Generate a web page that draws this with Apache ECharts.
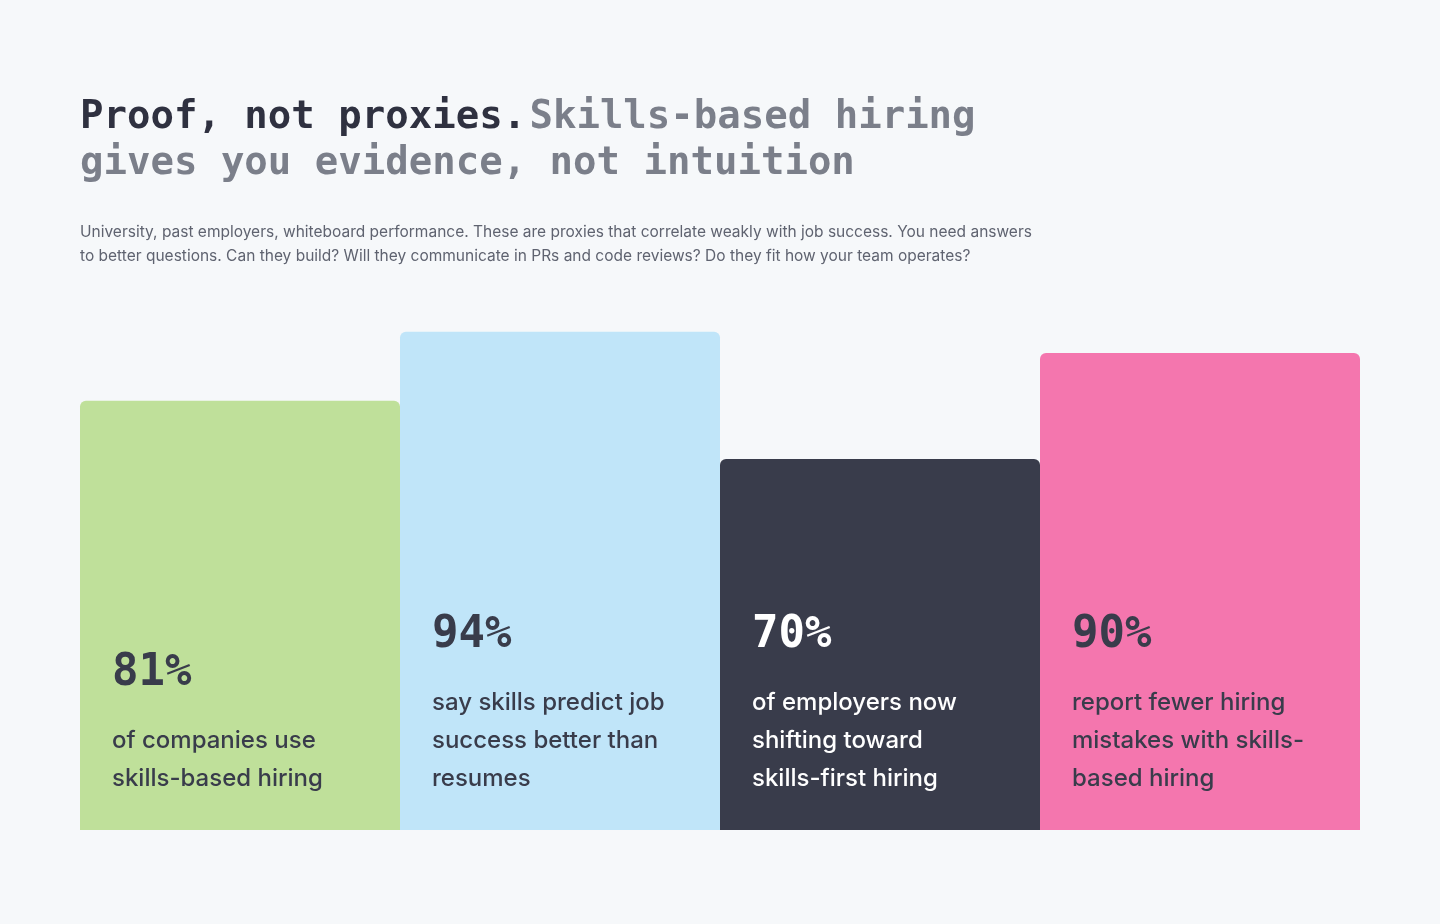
<!DOCTYPE html>
<html><head><meta charset="utf-8">
<script src="https://cdn.jsdelivr.net/npm/echarts@6/dist/echarts.min.js"></script>
<style>html,body{margin:0;padding:0;background:#f6f8fa}#c{width:1440px;height:924px}</style>
</head><body><div id="c"></div>
<script>
const categories = ['companies', 'predict', 'employers', 'mistakes'];
const values = [81, 94, 70, 90];
const valueLabels = ['81%', '94%', '70%', '90%'];
const descriptions = [
  'of companies use\nskills-based hiring',
  'say skills predict job\nsuccess better than\nresumes',
  'of employers now\nshifting toward\nskills-first hiring',
  'report fewer hiring\nmistakes with skills-\nbased hiring'
];
const colors = ['#bfe09a', '#c0e5f9', '#393c4b', '#f476ae'];
const textColors = ['#393c4b', '#393c4b', '#ffffff', '#393c4b'];

const chart = echarts.init(document.getElementById('c'));
chart.setOption({
  backgroundColor: '#f6f8fa',
  animation: false,
  grid: { left: 80, right: 80, top: 300, bottom: 94 },
  xAxis: { type: 'category', data: categories, show: false },
  yAxis: { type: 'value', min: 0, max: 100, show: false },
  graphic: [
    { type: 'text', left: 80, top: 98, style: {
      text: '{a|Proof, not proxies.} {b|Skills-based hiring}\n{b|gives you evidence, not intuition}',
      rich: {
        a: { font: 'bold 39px "DejaVu Sans Mono"', fill: '#2f3140', lineHeight: 46 },
        b: { font: 'bold 39px "DejaVu Sans Mono"', fill: '#7b7f8a', lineHeight: 46 }
      }
    }},
    { type: 'text', left: 80, top: 220, style: {
      text: 'University, past employers, whiteboard performance. These are proxies that correlate weakly with job success. You need answers\nto better questions. Can they build? Will they communicate in PRs and code reviews? Do they fit how your team operates?',
      font: '15.5px Inter', fill: '#5f6370', lineHeight: 24
    }}
  ],
  series: [{
    type: 'bar',
    barWidth: '100%',
    barGap: '0%',
    data: values.map((v, i) => ({
      value: v,
      itemStyle: { color: colors[i], borderRadius: [6, 6, 0, 0] },
      label: {
        show: true,
        position: 'insideBottomLeft',
        distance: 32,
        formatter: '{p|' + valueLabels[i] + '}\n' + descriptions[i].split('\n').map(s => '{d|' + s + '}').join('\n'),
        rich: {
          p: { fontFamily: 'DejaVu Sans Mono', fontWeight: 'bold', fontSize: 44, color: textColors[i], lineHeight: 96 },
          d: { fontFamily: 'Inter', fontWeight: 500, fontSize: 24, color: textColors[i], lineHeight: 38 }
        }
      }
    }))
  }]
});
</script></body></html>
